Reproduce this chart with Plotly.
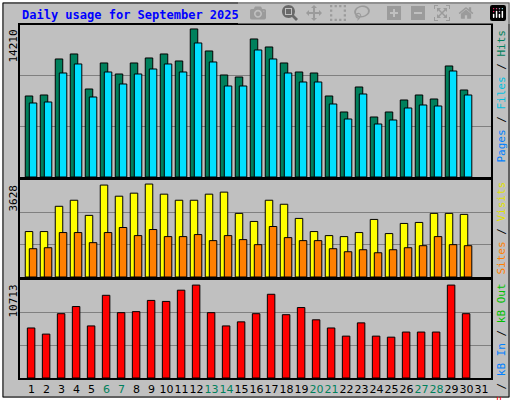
import plotly.graph_objects as go

days = list(range(1, 32))
hits = [7776,7872,11328,11808,8448,10944,9888,10944,11424,11808,11136,14210,12096,9792,9600,13248,12480,10944,10080,9984,7776,6240,8640,5760,6240,7392,7872,7488,10656,8352]
files = [7104,7200,9984,10848,7680,10080,8928,9888,10368,10848,10080,12864,11040,8736,8736,12192,11328,9984,9120,9120,7008,5568,7968,5088,5472,6624,6912,6816,10176,7872]
visits = [1774,1774,2760,2996,2405,3588,3154,3272,3628,3233,2996,2996,3233,3312,2484,2168,2996,2839,2287,1774,1616,1577,1735,2247,1695,2090,2129,2484,2484,2444]
sites = [1104,1143,1735,1735,1340,1735,1932,1616,1853,1577,1577,1656,1419,1616,1459,1262,1971,1537,1419,1419,1104,986,1064,946,1064,1143,1222,1577,1262,1222]
kbytes = [5768,5062,7416,8240,6004,9535,7534,7652,8947,8829,10124,10713,7534,6004,6474,7416,9653,7299,8123,6710,5768,4827,6357,4827,4709,5298,5298,5298,10713,7416]
weekend = [6, 7, 13, 14, 20, 21, 27, 28]
title = "Daily usage for September 2025"

W, H = 512, 400
def py(px): return 1 - px / H

d = days[:30]
fig = go.Figure()
line = dict(color="black", width=1)
fig.add_bar(x=d, y=hits, width=0.5, offset=-0.42, marker=dict(color="#00805C", line=line), xaxis="x", yaxis="y")
fig.add_bar(x=d, y=files, width=0.5, offset=-0.15, marker=dict(color="#00E0FF", line=line), xaxis="x", yaxis="y")
fig.add_bar(x=d, y=visits, width=0.5, offset=-0.42, marker=dict(color="#FFFF00", line=line), xaxis="x2", yaxis="y2")
fig.add_bar(x=d, y=sites, width=0.5, offset=-0.15, marker=dict(color="#FF8000", line=line), xaxis="x2", yaxis="y2")
fig.add_bar(x=d, y=kbytes, width=0.5, offset=-0.28, marker=dict(color="#FF0000", line=line), xaxis="x3", yaxis="y3")

xr = [0.23, 31.63]
xdom = [20 / W, 491 / W]
ticktext = [f'<span style="color:{"#00805C" if k in weekend else "black"}">{k}</span>' for k in days]

def xax(anchor, show):
    return dict(domain=xdom, range=xr, anchor=anchor, showgrid=False, zeroline=False,
                showline=True, mirror=True, linecolor="black", linewidth=2,
                tickvals=days if show else [], ticktext=ticktext if show else None,
                ticks="", tickangle=0, tickfont=dict(family="DejaVu Sans", size=11, color="black"))

def yax(anchor, top, bot, ymax):
    return dict(domain=[py(bot), py(top)], range=[0, ymax], anchor=anchor,
                tickvals=[ymax / 3, 2 * ymax / 3], showticklabels=False, ticks="",
                gridcolor="#808080", gridwidth=1, zeroline=False,
                showline=True, mirror=True, linecolor="black", linewidth=2)

fig.update_layout(
    width=W, height=H, margin=dict(l=0, r=0, t=0, b=0),
    paper_bgcolor="#C0C0C0", plot_bgcolor="#C0C0C0", showlegend=False,
    barmode="overlay",
    xaxis=xax("y", False), xaxis2=xax("y2", False), xaxis3=xax("y3", True),
    yaxis=yax("x", 25, 177, 14590), yaxis2=yax("x2", 180, 277, 3786), yaxis3=yax("x3", 280, 378, 11300),
)

mono = dict(family="DejaVu Sans Mono", size=11, color="black")
ann = [
    dict(x=20 / W, y=py(15), text=f"<b>{title}</b>", xanchor="left", yanchor="middle",
         font=dict(family="DejaVu Sans Mono", size=12, color="#0000FF")),
    dict(x=13 / W, y=py(28), text=f"{max(hits)}", textangle=-90, xanchor="center", yanchor="top", font=mono),
    dict(x=13 / W, y=py(183), text=f"{max(visits)}", textangle=-90, xanchor="center", yanchor="top", font=mono),
    dict(x=13 / W, y=py(283), text=f"{max(kbytes)}", textangle=-90, xanchor="center", yanchor="top", font=mono),
    dict(x=501 / W, y=py(28), xanchor="center", yanchor="top", textangle=-90, font=mono,
         text='<span style="color:#0080FF">Pages</span> / <span style="color:#00C0E0">Files</span> / <span style="color:#00805C">Hits</span>'),
    dict(x=501 / W, y=py(180), xanchor="center", yanchor="top", textangle=-90, font=mono,
         text='<span style="color:#FF8000">Sites</span> / <span style="color:#E0E000">Visits</span>'),
    dict(x=501 / W, y=py(282), xanchor="center", yanchor="top", textangle=-90, font=mono,
         text='<span style="color:#FF0000">kB F</span> / <span style="color:#0080FF">kB In</span> / <span style="color:#00C000">kB Out</span>'),
]
for a in ann:
    a.update(xref="paper", yref="paper", showarrow=False)
fig.update_layout(annotations=ann)
fig.add_shape(type="rect", xref="paper", yref="paper", x0=0, y0=0, x1=1, y1=1,
              line=dict(color="white", width=4))
fig.add_shape(type="rect", xref="paper", yref="paper", x0=3/W, y0=3/H, x1=1-3/W, y1=1-3/H,
              line=dict(color="black", width=1))
fig.write_html("out.html")
with open("out.html", encoding="utf-8") as f:
    html = f.read()
html = html.replace("<head>", "<head><style>html,body{margin:0;padding:0;overflow:hidden}</style>", 1)
with open("out.html", "w", encoding="utf-8") as f:
    f.write(html)
